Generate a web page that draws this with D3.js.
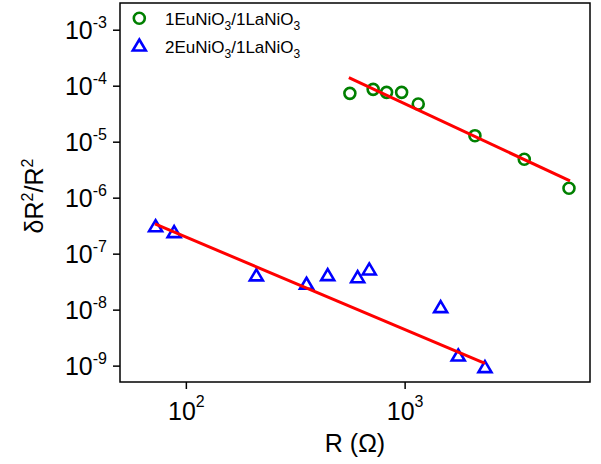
<!DOCTYPE html>
<html>
<head>
<meta charset="utf-8">
<script src="https://cdn.jsdelivr.net/npm/d3@7"></script>
<style>
  body { margin: 0; background: #fff; }
  svg { display: block; font-family: Arial, "Liberation Sans", sans-serif; }
</style>
</head>
<body>
<svg id="chart" width="601" height="464"></svg>
<script>
// 1EuNiO3/1LaNiO3 sample: resistance (ohm) vs normalised noise
var rA = [562, 718, 827, 969, 1154, 2096, 3523, 5640];
var noiseA = [7.3e-5, 8.6e-5, 7.6e-5, 7.6e-5, 4.7e-5, 1.28e-5, 4.85e-6, 1.47e-6];
// 2EuNiO3/1LaNiO3 sample
var rB = [72.7, 88.4, 210, 356, 445, 610, 689, 1461, 1758, 2329];
var noiseB = [3.16e-7, 2.47e-7, 4.17e-8, 2.96e-8, 4.22e-8, 3.88e-8, 5.33e-8, 1.13e-8, 1.55e-9, 9.6e-10];
// power-law fit lines (end points)
var fitAR = [556, 5700], fitAV = [1.39e-4, 1.99e-6];
var fitBR = [72.2, 2329], fitBV = [3.39e-7, 1.10e-9];

var xTicks = [1e2, 1e3];
var yTicks = [1e-3, 1e-4, 1e-5, 1e-6, 1e-7, 1e-8, 1e-9];

var margin = {top: 3, right: 11, bottom: 82, left: 120};
var width = 601 - margin.left - margin.right;
var height = 464 - margin.top - margin.bottom;

var svg = d3.select("#chart")
  .append("g")
    .attr("transform", "translate(" + margin.left + "," + margin.top + ")");

var x = d3.scaleLog().domain([50, 7036]).range([0, width]);
var y = d3.scaleLog().domain([5.1e-10, 3e-3]).range([height, 0]);

// axes with 10^n labels
function expLabel(sel, supDy, supSize) {
  sel.each(function(d) {
    var t = d3.select(this).text(null);
    var e = Math.round(Math.log10(d));
    t.append("tspan").text("10");
    t.append("tspan")
      .attr("dy", supDy)
      .attr("font-size", supSize)
      .text(e < 0 ? "-" + (-e) : e);
  });
}

var yAxis = svg.append("g")
  .call(d3.axisLeft(y).tickValues(yTicks).tickSize(7).tickPadding(6));
yAxis.select(".domain").remove();
yAxis.selectAll("line").attr("stroke-width", 1.5);
yAxis.selectAll("text")
  .attr("font-size", 25)
  .attr("fill", "#000")
  .attr("dy", "0.37em")
  .call(expLabel, -11, 16);

var xAxis = svg.append("g")
  .attr("transform", "translate(0," + height + ")")
  .call(d3.axisBottom(x).tickValues(xTicks).tickSize(7).tickPadding(6));
xAxis.select(".domain").remove();
xAxis.selectAll("line").attr("stroke-width", 1.5);
xAxis.selectAll("text")
  .attr("font-size", 25)
  .attr("fill", "#000")
  .attr("dy", null)
  .attr("y", 38)
  .attr("text-anchor", "middle")
  .call(expLabel, -13, 16);

// frame
svg.append("rect")
  .attr("width", width)
  .attr("height", height)
  .attr("fill", "none")
  .attr("stroke", "#000")
  .attr("stroke-width", 1.5);

// axis titles
svg.append("text")
  .attr("x", width / 2)
  .attr("y", height + 70)
  .attr("text-anchor", "middle")
  .attr("font-size", 25)
  .text("R (\u03A9)");

var yTitle = svg.append("text")
  .attr("transform", "translate(" + (43 - margin.left) + "," + (196 - margin.top) + ") rotate(-90)")
  .attr("text-anchor", "middle")
  .attr("font-size", 25);
yTitle.append("tspan").text("\u03B4R");
yTitle.append("tspan").attr("dy", -10).attr("font-size", 16).text("2");
yTitle.append("tspan").attr("dy", 10).text("/R");
yTitle.append("tspan").attr("dy", -10).attr("font-size", 16).text("2");

var tri = "M0,-5.5L6.5,5.5L-6.5,5.5Z";

var seriesA = rA.map(function(r, i) { return {r: r, v: noiseA[i]}; });
var seriesB = rB.map(function(r, i) { return {r: r, v: noiseB[i]}; });

svg.append("g").selectAll("circle")
  .data(seriesA)
  .enter().append("circle")
    .attr("cx", function(d) { return x(d.r); })
    .attr("cy", function(d) { return y(d.v); })
    .attr("r", 5.5)
    .attr("fill", "none")
    .attr("stroke", "#008000")
    .attr("stroke-width", 2.6);

svg.append("g").selectAll("path")
  .data(seriesB)
  .enter().append("path")
    .attr("d", tri)
    .attr("transform", function(d) { return "translate(" + x(d.r) + "," + y(d.v) + ")"; })
    .attr("fill", "none")
    .attr("stroke", "#0000ff")
    .attr("stroke-width", 2.6);

// fit lines on top of the markers
[[fitAR, fitAV], [fitBR, fitBV]].forEach(function(f) {
  svg.append("line")
    .attr("x1", x(f[0][0])).attr("y1", y(f[1][0]))
    .attr("x2", x(f[0][1])).attr("y2", y(f[1][1]))
    .attr("stroke", "#ff0000")
    .attr("stroke-width", 3);
});

// legend
var legend = svg.append("g").attr("font-size", 17);
var names = [["1EuNiO", "3", "/1LaNiO", "3"], ["2EuNiO", "3", "/1LaNiO", "3"]];
legend.append("circle")
  .attr("cx", 19.3).attr("cy", 15.3).attr("r", 5.5)
  .attr("fill", "none").attr("stroke", "#008000").attr("stroke-width", 2.6);
legend.append("path")
  .attr("d", tri)
  .attr("transform", "translate(19.3,42)")
  .attr("fill", "none").attr("stroke", "#0000ff").attr("stroke-width", 2.6);
names.forEach(function(n, i) {
  var t = legend.append("text")
    .attr("x", 45)
    .attr("y", 22 + i * 27.5);
  t.append("tspan").text(n[0]);
  t.append("tspan").attr("dy", 5).attr("font-size", 12).text(n[1]);
  t.append("tspan").attr("dy", -5).text(n[2]);
  t.append("tspan").attr("dy", 5).attr("font-size", 12).text(n[3]);
});
</script>
</body>
</html>
